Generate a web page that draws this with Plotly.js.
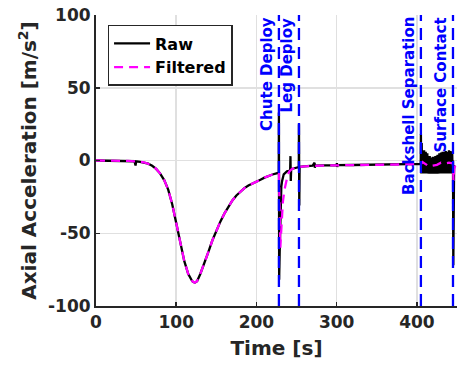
<!DOCTYPE html>
<html><head><meta charset="utf-8">
<script src="https://cdn.plot.ly/plotly-3.0.1.min.js"></script>
<style>html,body{margin:0;padding:0;background:#fff}#chart{width:460px;height:366px}</style>
</head><body><div id="chart"></div>
<script>
// ---- data ----
const rawEntryT = [0,10,20,30,40,48,49.3,49.6,50,55,60,65,70,75,80,85,90,95,100,105,110,115,120,123,126,130,135,140,145,150,155,160,165,170,175,180,185,190,195,200,205,210,215,220,225,227.8];
const rawEntryV = [0,0,-0.1,-0.2,-0.3,-0.5,-3.5,-0.6,-0.6,-0.9,-1.3,-2.2,-3.6,-5.8,-9,-13.5,-20,-30,-43,-57,-69,-78,-83,-84,-83,-78,-71,-63,-55,-48,-42,-36.5,-31.5,-27.5,-24,-21.3,-19,-17.2,-15.7,-14.4,-13.2,-11.8,-10.6,-9.6,-8.8,-8.4];
const rawDescentT = [228.0,228.3,228.7,229.2,229.7,230.3,231,232,233,234,236,238,242,242.4,242.8,243.3,246,250,252.8,253.0,253.4,253.8,256,260,270,272.5,272.8,273.2,285,300,300.3,300.6,301,320,340,360,380,400,404.8];
const rawDescentV = [33,-82,-70,-57,-40,-26,-18,-14,-11,-9.5,-8.5,-7.5,-7,3,-14,-6,-5.5,-5,-4.6,25,-31,-4.4,-4.2,-4,-3.6,-1.5,-5,-3.5,-3.3,-3.2,-1.8,-4.5,-3.2,-3.1,-3,-2.9,-2.7,-2.5,-2.4];
const rawNoiseT = [405.0,405.5,406.0,406.5,407.0,407.5,408.0,408.5,409.0,409.5,410.0,410.5,411.0,411.5,412.0,412.5,413.0,413.5,414.0,414.5,415.0,415.5,416.0,416.5,417.0,417.5,418.0,418.5,419.0,419.5,420.0,420.5,421.0,421.5,422.0,422.5,423.0,423.5,424.0,424.5,425.0,425.5,426.0,426.5,427.0,427.5,428.0,428.5,429.0,429.5,430.0,430.5,431.0,431.5,432.0,432.5,433.0,433.5,434.0,434.5,435.0,435.5,436.0,436.5,437.0,437.5,438.0,438.5,439.0,439.5,440.0,440.5,441.0,441.5,442.0,442.5,443.0,443.5,444.0,444.5];
const rawNoiseV = [18,-9,12,-8,7,-9,6,-8.5,7,-9,5,-8,6,-9,4,-8.5,5,-9,3,-8,2,-9,3,-8.5,1.5,-9,2,-8,1,-9,2.5,-8.5,1,-9,2,-8,3,-9,2,-8.5,3.5,-9,4,-8,3,-9,5,-8.5,4,-9,5.5,-8,4.5,-9,6,-8.5,5,-9,6,-8,5,-9,6.5,-8.5,5.5,-9,6,-8,5,-9,7,-8.5,6,-9,6.5,-8,5,-9,6,-8.5];
const rawLandT = [445.0,445.4,446.0,446.4];
const rawLandV = [0,-72,-20,-3];

const filtT = [0,10,20,30,40,50,55,60,65,70,75,80,85,90,95,100,105,110,115,120,123,126,130,135,140,145,150,155,160,165,170,175,180,185,190,195,200,205,210,215,220,225,228,228.6,229.2,229.8,230.5,231.5,233,235,237,239,241,244,248,252,256,260,280,300,320,340,360,380,400,405,407,410,415,420,425,430,435,440,444,445,445.6,446.5,448,450];
const filtV = [0,0,-0.1,-0.2,-0.3,-0.6,-0.9,-1.3,-2.2,-3.6,-5.8,-9,-13.5,-20,-30,-43,-57,-69,-78,-83,-84,-83,-78,-71,-63,-55,-48,-42,-36.5,-31.5,-27.5,-24,-21.3,-19,-17.2,-15.7,-14.4,-13.2,-11.8,-10.6,-9.6,-8.8,-8.4,-25,-50,-60,-52,-40,-28,-20,-14,-10,-7.5,-6,-5,-4.6,-4.2,-4,-3.5,-3.2,-3.1,-3,-2.9,-2.7,-2.5,-2.5,-1,-2,-4,-3.5,-3,-1.5,-2,-1.5,-2,-2,-14,-6,-3,-2.5];

const eventTimes = [228, 253, 405, 445];
const eventLabels = ['Chute Deploy', 'Leg Deploy', 'Backshell Separation', 'Surface Contact'];

const xTicks = [0, 100, 200, 300, 400];
const yTicks = [-100, -50, 0, 50, 100];

// ---- build ----
const rawT = rawEntryT.concat(rawDescentT, rawNoiseT, rawLandT);
const rawV = rawEntryV.concat(rawDescentV, rawNoiseV, rawLandV);

const FONT = 'DejaVu Sans';
const AX = '#262626';

const traces = [
  {x: rawT, y: rawV, type: 'scatter', mode: 'lines', name: 'Raw',
   line: {color: '#000000', width: 2.3}},
  {x: filtT, y: filtV, type: 'scatter', mode: 'lines', name: 'Filtered',
   line: {color: '#ff00ff', width: 2.3, dash: '9px,6px'}}
];

const shapes = eventTimes.map(t => ({
  type: 'line', xref: 'x', yref: 'paper', x0: t, x1: t, y0: 0, y1: 1,
  line: {color: '#0000ff', width: 2.3, dash: '12px,7px'}, layer: 'above'
}));

const annotations = eventTimes.map((t, i) => ({
  x: t, xref: 'x', y: 1, yref: 'paper', text: eventLabels[i],
  textangle: -90, xanchor: 'right', yanchor: 'top', showarrow: false,
  xshift: -1, font: {family: FONT, size: 15, color: '#0000ff', weight: 'bold'}
}));

const layout = {
  width: 460, height: 366,
  margin: {l: 96, r: 3, t: 15, b: 60},
  paper_bgcolor: '#ffffff', plot_bgcolor: '#ffffff',
  showlegend: true,
  legend: {x: 0.032, y: 0.966, xanchor: 'left', yanchor: 'top',
           bgcolor: '#ffffff', bordercolor: AX, borderwidth: 1.5,
           font: {family: FONT, size: 16, color: '#000000', weight: 'bold'},
           tracegroupgap: 0, itemwidth: 36},
  xaxis: {range: [0, 450], tickvals: xTicks, ticktext: xTicks.map(String),
          showgrid: true, gridcolor: '#e0e0e0', gridwidth: 1.5, zeroline: false,
          showline: true, linecolor: AX, linewidth: 2, mirror: false,
          ticks: 'inside', ticklen: 4, tickwidth: 1.5, tickcolor: AX,
          tickfont: {family: FONT, size: 17, color: AX, weight: 'bold'},
          title: {text: 'Time [s]', font: {family: FONT, size: 20, color: AX, weight: 'bold'}, standoff: 10}},
  yaxis: {range: [-100, 100], tickvals: yTicks, ticktext: yTicks.map(String),
          showgrid: true, gridcolor: '#e0e0e0', gridwidth: 1.5, zeroline: false,
          showline: true, linecolor: AX, linewidth: 2, mirror: false,
          ticks: 'inside', ticklen: 4, tickwidth: 1.5, tickcolor: AX,
          tickfont: {family: FONT, size: 17, color: AX, weight: 'bold'},
          title: {text: 'Axial Acceleration [m/s<sup>2</sup>]', font: {family: FONT, size: 20, color: AX, weight: 'bold'}, standoff: 6}},
  shapes: shapes,
  annotations: annotations
};

Plotly.newPlot('chart', traces, layout, {displayModeBar: false, staticPlot: true});
</script>
</body></html>
